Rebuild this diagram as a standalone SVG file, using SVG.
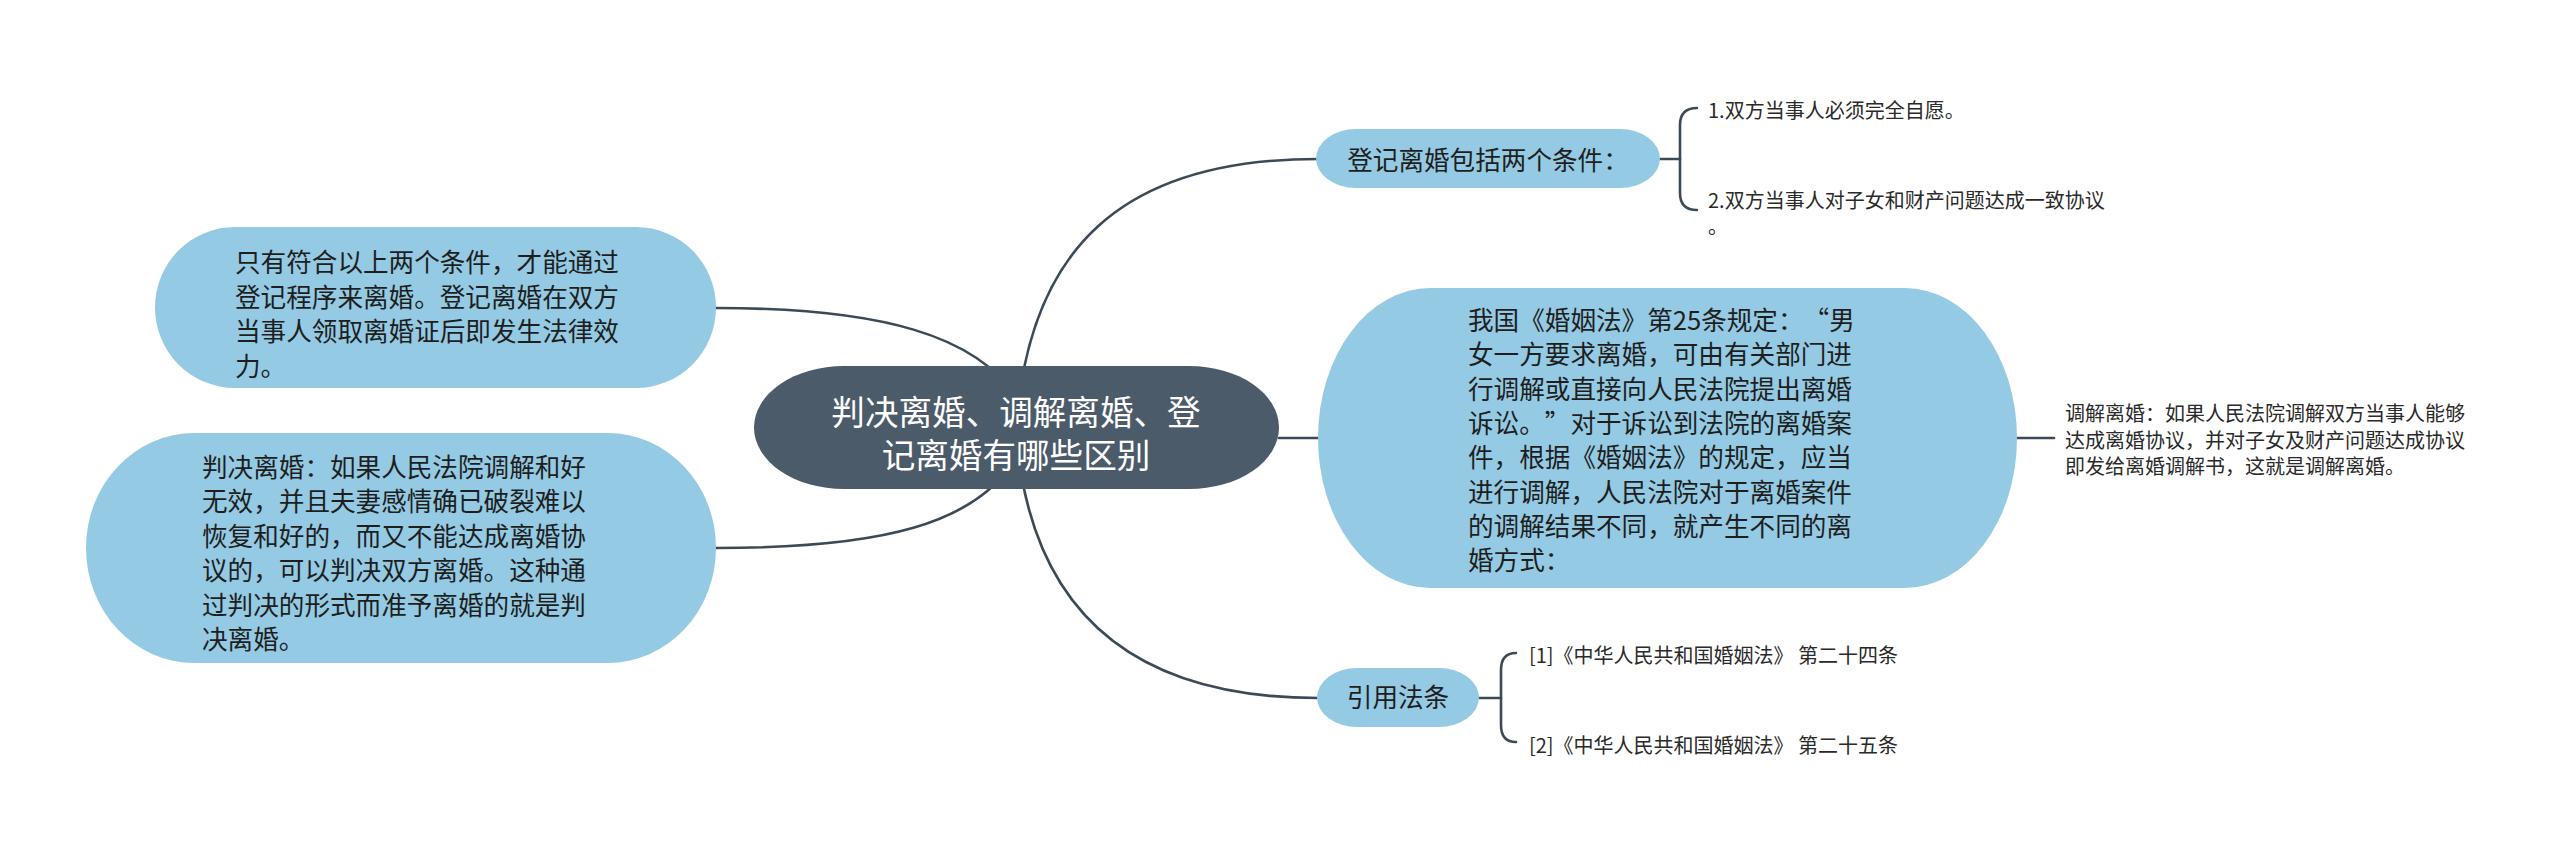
<svg xmlns="http://www.w3.org/2000/svg" width="2560" height="851" viewBox="0 0 2560 851">
<defs>
<style>
.bg{fill:#ffffff}
.conn{fill:none;stroke:#3c4a57;stroke-width:2.6;stroke-linecap:round}
.sub{fill:#94cae3}
.root{fill:#4b5b6a}
text{text-spacing-trim:space-all}
.t{font-family:"Noto Sans CJK SC","Noto Sans",sans-serif;font-size:25.6px;fill:#1e1e1e}
.tr{font-family:"Noto Sans CJK SC","Noto Sans",sans-serif;font-size:33.6px;fill:#ffffff}
.ts{font-family:"Noto Sans CJK SC","Noto Sans",sans-serif;font-size:20px;fill:#2a2a2a}
</style>
</defs>
<rect class="bg" x="0" y="0" width="2560" height="851"/>
<g id="connectors">
<path class="conn" d="M716 308 C880 308 978 335 1018 400"/>
<path class="conn" d="M716 548 C880 548 978 525 1018 455"/>
<path class="conn" d="M1016 430 C1028 250 1120 159 1318 159"/>
<path class="conn" d="M1016 430 C1028 600 1120 698 1318 698"/>
<path class="conn" d="M1279 438 H1318"/>
<path class="conn" d="M1660 159 H1680"/>
<path class="conn" d="M1697 108 Q1680 108 1680 125 V193 Q1680 210 1697 210"/>
<path class="conn" d="M2017 438 H2054"/>
<path class="conn" d="M1479 698 H1501"/>
<path class="conn" d="M1516 653 Q1501 653 1501 670 V725 Q1501 742 1516 742"/>
</g>
<g id="root">
<rect class="root" x="754" y="366" width="525" height="123" rx="90" ry="61.5"/>
<text class="tr" x="1016" y="425" text-anchor="middle">判决离婚、调解离婚、登</text>
<text class="tr" x="1016" y="468" text-anchor="middle">记离婚有哪些区别</text>
</g>
<g id="node-left1">
<rect class="sub" x="155" y="227" width="561" height="161" rx="80" ry="80.5"/>
<text class="t" x="235" y="272">只有符合以上两个条件，才能通过</text>
<text class="t" x="235" y="306.5">登记程序来离婚。登记离婚在双方</text>
<text class="t" x="235" y="341">当事人领取离婚证后即发生法律效</text>
<text class="t" x="235" y="375.5">力。</text>
</g>
<g id="node-left2">
<rect class="sub" x="86" y="433" width="630" height="230" rx="108" ry="115"/>
<text class="t" x="202" y="477">判决离婚：如果人民法院调解和好</text>
<text class="t" x="202" y="511.4">无效，并且夫妻感情确已破裂难以</text>
<text class="t" x="202" y="545.8">恢复和好的，而又不能达成离婚协</text>
<text class="t" x="202" y="580.2">议的，可以判决双方离婚。这种通</text>
<text class="t" x="202" y="614.6">过判决的形式而准予离婚的就是判</text>
<text class="t" x="202" y="649">决离婚。</text>
</g>
<g id="node-register">
<rect class="sub" x="1316" y="129" width="344" height="59" rx="40" ry="29.5"/>
<text class="t" x="1488" y="170" text-anchor="middle">登记离婚包括两个条件：</text>
</g>
<g id="leaf-cond1">
<text class="ts" x="1708" y="118">1.双方当事人必须完全自愿。</text>
</g>
<g id="leaf-cond2">
<text class="ts" x="1708" y="208">2.双方当事人对子女和财产问题达成一致协议</text>
<text class="ts" x="1708" y="234">。</text>
</g>
<g id="node-law">
<rect class="sub" x="1318" y="288" width="699" height="300" rx="112" ry="150"/>
<text class="t" x="1468" y="330">我国《婚姻法》第25条规定：“男</text>
<text class="t" x="1468" y="364.3">女一方要求离婚，可由有关部门进</text>
<text class="t" x="1468" y="398.6">行调解或直接向人民法院提出离婚</text>
<text class="t" x="1468" y="432.9">诉讼。”对于诉讼到法院的离婚案</text>
<text class="t" x="1468" y="467.2">件，根据《婚姻法》的规定，应当</text>
<text class="t" x="1468" y="501.5">进行调解，人民法院对于离婚案件</text>
<text class="t" x="1468" y="535.8">的调解结果不同，就产生不同的离</text>
<text class="t" x="1468" y="570.1">婚方式：</text>
</g>
<g id="leaf-mediation">
<text class="ts" x="2065" y="421">调解离婚：如果人民法院调解双方当事人能够</text>
<text class="ts" x="2065" y="447.5">达成离婚协议，并对子女及财产问题达成协议</text>
<text class="ts" x="2065" y="474">即发给离婚调解书，这就是调解离婚。</text>
</g>
<g id="node-cite">
<rect class="sub" x="1317" y="668" width="162" height="59" rx="40" ry="29.5"/>
<text class="t" x="1398" y="707" text-anchor="middle">引用法条</text>
</g>
<g id="leaf-cite1">
<text class="ts" x="1529" y="663">[1]《中华人民共和国婚姻法》 第二十四条</text>
</g>
<g id="leaf-cite2">
<text class="ts" x="1529" y="753">[2]《中华人民共和国婚姻法》 第二十五条</text>
</g>
</svg>
